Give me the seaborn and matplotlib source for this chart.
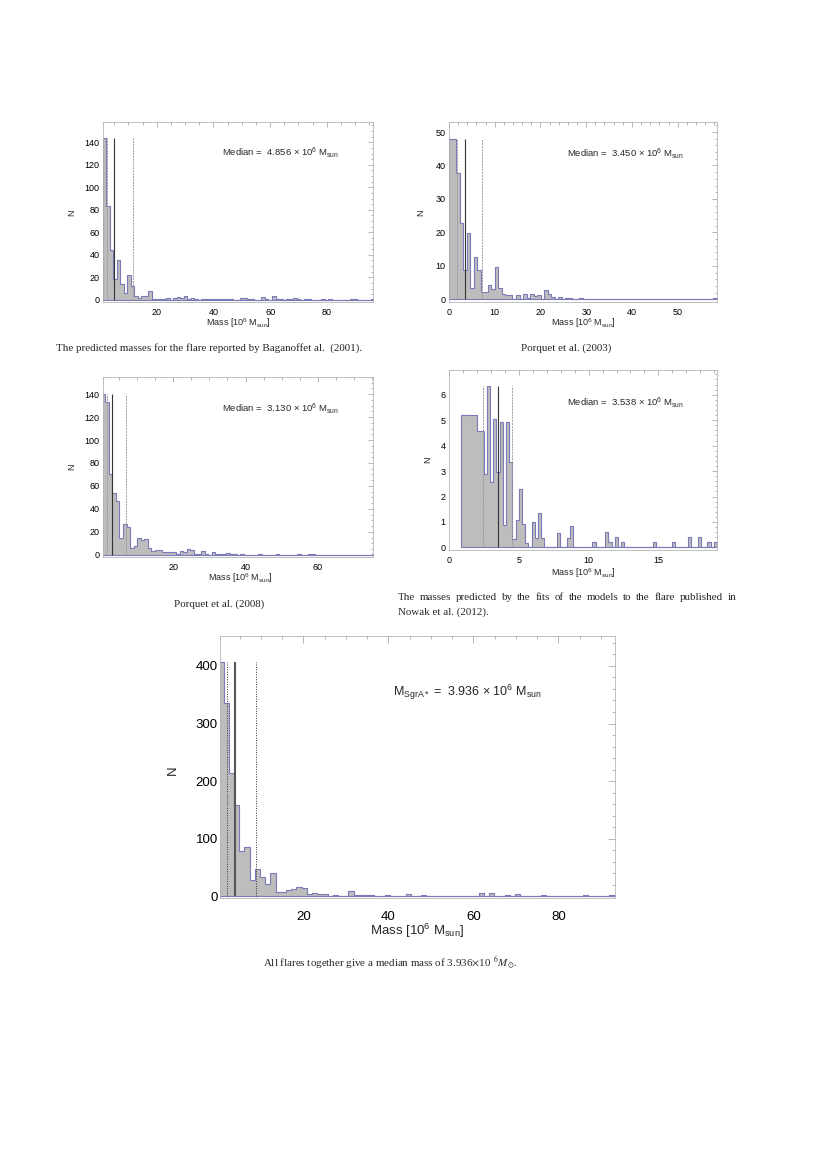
import numpy as np
import pandas as pd
import matplotlib
matplotlib.use("Agg")
import matplotlib.pyplot as plt
import seaborn as sns
from matplotlib.ticker import MultipleLocator

# ------------------------------------------------------------------
# Data
# ------------------------------------------------------------------
# Panel A: Baganoff et al. (2001)
bin_start_a, bin_width_a = 0.92, 1.245
counts_a = [144, 83, 44, 18.5, 35, 14, 6, 22, 12, 3,
            2, 3.6, 3.6, 8, 1, 1, 1, 0.5, 1.5, 0,
            1.5, 2.7, 1.8, 3.3, 1, 1.5, 0.3, 0, 0.3, 0.5,
            0.5, 1, 0.5, 0.5, 0.5, 1, 1, 0, 0, 1.5,
            1.5, 0.5, 0.5, 0, 0, 2.5, 0.5, 0, 3.3, 0.5,
            0.5, 0, 1, 0.5, 2, 0.5, 0, 1, 0.5, 0,
            0, 0, 0.3, 0, 1, 0, 0, 0, 0, 0,
            0.3, 1, 0, 0, 0, 0, 1]
lines_a = [2.3, 4.856, 11.8]
median_a = "4.856"

# Panel B: Porquet et al. (2003)
bin_start_b, bin_width_b = 0.0, 0.771
counts_b = [47.8, 47.8, 37.9, 22.8, 8.7, 19.8, 3.5, 12.7, 8.9, 2.2,
            2.3, 4.2, 3.0, 9.7, 3.5, 1.7, 1.3, 1.3, 0, 1.3,
            0, 1.7, 0.3, 1.5, 1.0, 1.3, 0, 2.8, 1.5, 0.7,
            0, 0.7, 0, 0.5, 0.5, 0, 0, 0.5, 0, 0,
            0, 0, 0, 0, 0, 0, 0, 0, 0, 0,
            0, 0, 0, 0, 0, 0, 0, 0, 0, 0,
            0, 0, 0, 0, 0, 0, 0, 0, 0, 0,
            0, 0, 0, 0, 0, 0.3]
lines_b = [1.75, 3.45, 7.23]
median_b = "3.450"

# Panel C: Porquet et al. (2008)
bin_start_c, bin_width_c = 0.28, 0.981
counts_c = [140, 133, 70, 54, 47, 15, 27, 24, 6, 8,
            15, 13, 14, 6, 3, 4, 4, 2, 2, 2,
            2.5, 1, 3, 2, 5, 4, 1, 0.5, 3, 0.5,
            0, 2, 0.3, 0.3, 0.5, 1.5, 1, 0.5, 0, 0.3,
            0, 0, 0, 0, 1, 0, 0, 0, 0, 1,
            0, 0, 0, 0, 0, 0.5, 0, 0, 0.5, 0.5,
            0, 0, 0, 0, 0, 0, 0, 0, 0, 0,
            0, 0, 0, 0, 0, 0, 0.5]
lines_c = [1.84, 3.13, 6.9]
median_c = "3.130"

# Panel D: Nowak et al. (2012)
bin_start_d, bin_width_d = 0.88, 0.229
counts_d = [5.19, 5.19, 5.19, 5.19, 5.19, 4.56, 4.56, 2.9, 6.33, 2.56,
            5.06, 2.95, 4.93, 0.87, 4.93, 3.36, 0.33, 1.06, 2.3, 0.94,
            0.17, 0, 1.0, 0.37, 1.35, 0.38, 0, 0, 0, 0,
            0.55, 0, 0, 0.38, 0.83, 0, 0, 0, 0, 0,
            0, 0.2, 0, 0, 0, 0.6, 0.2, 0, 0.4, 0,
            0.2, 0, 0, 0, 0, 0, 0, 0, 0, 0,
            0.2, 0, 0, 0, 0, 0, 0.2, 0, 0, 0,
            0, 0.4, 0, 0, 0.4, 0, 0, 0.2, 0, 0.2]
lines_d = [2.43, 3.538, 4.51]
median_d = "3.538"

# Panel E: all flares together
bin_start_e, bin_width_e = 0.0, 1.224
counts_e = [407, 335, 214, 159, 79, 85, 29, 47, 33, 22,
            41, 7.6, 7.6, 10.5, 12.8, 16.9, 14.6, 4.7, 5.8, 4.7,
            4, 1.2, 2.9, 1.2, 1.2, 8.7, 2.3, 2, 2, 1.5,
            1, 1, 3, 1, 0.5, 0.5, 4, 0.5, 0.5, 2,
            0.5, 1, 0.5, 0.5, 1, 1, 1, 1, 0.5, 0.5,
            5, 0.5, 5, 0.5, 1, 3, 0.5, 4, 1, 1,
            0.5, 1, 2, 0.5, 1, 1, 1, 1, 0.5, 1,
            3, 1, 1, 0.5, 0.5, 2, 3]
lines_e = [2.0, 3.936, 8.78]
median_e = "3.936"

# ------------------------------------------------------------------
# Style
# ------------------------------------------------------------------
sns.set_theme(style="white")
plt.rcParams['font.family'] = ['Liberation Sans', 'DejaVu Sans']
plt.rcParams['mathtext.fontset'] = 'custom'
plt.rcParams['mathtext.rm'] = 'Liberation Sans'
plt.rcParams['mathtext.it'] = 'Liberation Sans:italic'
plt.rcParams['mathtext.bf'] = 'Liberation Sans:bold'

FILL = '#bdbdbd'
EDGE = '#7b7bb8'
FRAME = '#b4b4b4'

W, H = 830, 1174
fig = plt.figure(figsize=(W / 100, H / 100), dpi=100)


def px_axes(l, t, r, b):
    return fig.add_axes([l / W, 1 - b / H, (r - l) / W, (b - t) / H])


def ftext(x, y, s, **kw):
    return fig.text(x / W, 1 - y / H, s, **kw)


def draw_panel(box, start, width, counts, lines, xlim, ylim, xmaj, xmin_, ymaj, ymin_,
               fs, big=False):
    ax = px_axes(*box)
    counts = np.asarray(counts, dtype=float)
    edges = start + width * np.arange(len(counts) + 1)
    centers = edges[:-1] + width / 2
    df = pd.DataFrame({"mass": centers, "n": counts})
    sns.histplot(data=df, x="mass", weights="n", bins=[float(e) for e in edges],
                 element="step", fill=True, facecolor=FILL, edgecolor=EDGE,
                 linewidth=0.8, alpha=1, ax=ax)
    top = counts.max()
    if big:
        ax.vlines([lines[0], lines[2]], 0, top, colors='#333333', linestyles=(0, (1, 1.5)), lw=0.7)
        ax.vlines([lines[1]], 0, top, colors='#555555', lw=1.5)
    else:
        ax.vlines([lines[0], lines[2]], 0, top, colors='#9a9a9a', linestyles=(0, (2, 1)), lw=0.7)
        ax.vlines([lines[1]], 0, top, colors='#333333', lw=0.8)
    ax.set_xlim(*xlim)
    ax.set_ylim(*ylim)
    ax.xaxis.set_major_locator(MultipleLocator(xmaj))
    ax.xaxis.set_minor_locator(MultipleLocator(xmin_))
    ax.yaxis.set_major_locator(MultipleLocator(ymaj))
    ax.yaxis.set_minor_locator(MultipleLocator(ymin_))
    ax.tick_params(which='both', direction='in', top=True, right=True,
                   color='#999999', width=0.5, labelsize=fs, labelcolor='black')
    ax.tick_params(axis='x', pad=9 if big else 4)
    ax.tick_params(axis='y', pad=1.5 if big else 2.5)
    ax.tick_params(which='major', length=3.5 if not big else 5)
    ax.tick_params(which='minor', length=1.8 if not big else 2.5)
    ax.set_xlabel("")
    ax.set_ylabel("")
    for sp in ax.spines.values():
        sp.set_color(FRAME)
        sp.set_linewidth(0.6)
    return ax


FS = 6.5
TFS = 6.8
BFS = 9.5

# Panel A
draw_panel((103, 122, 373, 302), bin_start_a, bin_width_a, counts_a, lines_a,
           (1.06, 96.3), (-2, 158), 20, 5, 20, 5, FS)
ftext(222, 153, r"Median =  %s $\times$ 10$^6$ M$_{\rm sun}$" % median_a, fontsize=TFS, va='center')
ftext(72, 213, "N", fontsize=FS, rotation=90, va='center', ha='center')
ftext(238, 323, r"Mass [10$^6$ M$_{\rm sun}$]", fontsize=FS, va='center', ha='center')

# Panel B
draw_panel((449, 122, 717, 302), bin_start_b, bin_width_b, counts_b, lines_b,
           (0, 58.6), (-0.8, 53), 10, 2, 10, 2, FS)
ftext(567, 154, r"Median =  %s $\times$ 10$^6$ M$_{\rm sun}$" % median_b, fontsize=TFS, va='center')
ftext(421, 213, "N", fontsize=FS, rotation=90, va='center', ha='center')
ftext(583, 323, r"Mass [10$^6$ M$_{\rm sun}$]", fontsize=FS, va='center', ha='center')

# Panel C
draw_panel((103, 377, 373, 557), bin_start_c, bin_width_c, counts_c, lines_c,
           (0.65, 75.2), (-2, 155), 20, 5, 20, 5, FS)
ftext(222, 409, r"Median =  %s $\times$ 10$^6$ M$_{\rm sun}$" % median_c, fontsize=TFS, va='center')
ftext(72, 467, "N", fontsize=FS, rotation=90, va='center', ha='center')
ftext(240, 578, r"Mass [10$^6$ M$_{\rm sun}$]", fontsize=FS, va='center', ha='center')

# Panel D
draw_panel((449, 370, 717, 550), bin_start_d, bin_width_d, counts_d, lines_d,
           (0, 19.2), (-0.1, 6.97), 5, 1, 1, 0.2, FS)
ftext(567, 403, r"Median =  %s $\times$ 10$^6$ M$_{\rm sun}$" % median_d, fontsize=TFS, va='center')
ftext(428, 460, "N", fontsize=FS, rotation=90, va='center', ha='center')
ftext(583, 573, r"Mass [10$^6$ M$_{\rm sun}$]", fontsize=FS, va='center', ha='center')

# Panel E
draw_panel((220, 636, 615, 898), bin_start_e, bin_width_e, counts_e, lines_e,
           (0.4, 93.3), (-3, 452), 20, 5, 100, 20, BFS, big=True)
ftext(393, 692, r"M$_{\rm SgrA*}$ =  %s $\times$ 10$^6$ M$_{\rm sun}$" % median_e, fontsize=9, va='center')
ftext(173, 770, "N", fontsize=BFS, rotation=90, va='center', ha='center')
ftext(417, 931, r"Mass [10$^6$ M$_{\rm sun}$]", fontsize=BFS, va='center', ha='center')

# Captions
SERIF = ['Liberation Serif', 'DejaVu Serif']
CFS = 7.9
ftext(56, 348, "The predicted masses for the flare reported by Baganoffet al.  (2001).",
      fontsize=CFS, family=SERIF, va='center')
ftext(566, 348, "Porquet et al. (2003)", fontsize=CFS, family=SERIF, va='center', ha='center')
ftext(219, 604, "Porquet et al. (2008)", fontsize=CFS, family=SERIF, va='center', ha='center')

# justified first line of the Nowak caption
line1 = "The masses predicted by the fits of the models to the flare published in"
words = line1.split()
renderer = fig.canvas.get_renderer()
wtexts = [ftext(398, 598, w, fontsize=CFS, family=SERIF, va='center') for w in words]
widths = [t.get_window_extent(renderer).width for t in wtexts]
x0, x1 = 398, 736
gap = (x1 - x0 - sum(widths)) / (len(words) - 1)
xpos = x0
for t, wdt in zip(wtexts, widths):
    t.set_x(xpos / W)
    xpos += wdt + gap
ftext(398, 612, "Nowak et al. (2012).", fontsize=CFS, family=SERIF, va='center')

ftext(263, 963, r"All flares together give a median mass of 3.936$\times$10$^{\ \ 6}M_{\odot}$.",
      fontsize=CFS, family=SERIF, va='center', math_fontfamily='stix')

fig.savefig("out.png", dpi=100, facecolor='white')
